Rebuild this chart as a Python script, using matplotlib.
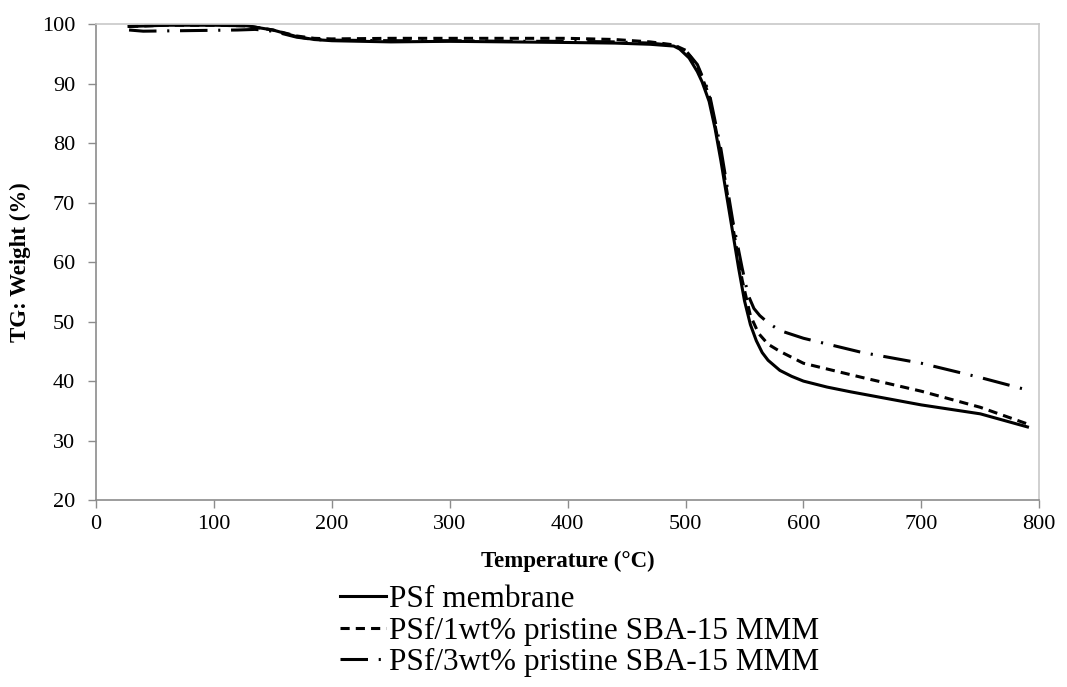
import matplotlib
matplotlib.use("Agg")
import matplotlib.pyplot as plt

# TGA curves
temp_psf = [28, 60, 100, 128, 150, 170, 185, 200, 250, 300, 350, 400, 440, 470, 490, 495, 503, 510,
            514, 520, 525, 530, 535, 540, 545, 550, 555, 560, 565, 570, 580, 590, 600, 620, 640, 700,
            750, 790]
wt_psf = [99.6, 99.8, 99.8, 99.7, 99.0, 97.9, 97.4, 97.2, 97.0, 97.1, 97.0, 96.9, 96.8, 96.6, 96.3,
          95.8, 94.3, 92.0, 90.3, 87.0, 82.5, 77.0, 71.0, 65.0, 59.0, 53.5, 49.5, 46.8, 44.8, 43.5,
          41.8, 40.8, 40.0, 39.0, 38.2, 36.0, 34.5, 32.3]

temp_1wt = [28, 60, 100, 128, 150, 170, 185, 200, 250, 300, 350, 400, 440, 470, 490, 500, 510, 520,
            530, 540, 548, 555, 562, 570, 580, 600, 650, 700, 750, 790]
wt_1wt = [99.6, 99.8, 99.8, 99.7, 99.0, 98.0, 97.6, 97.5, 97.6, 97.6, 97.6, 97.6, 97.4, 97.0, 96.5,
          95.6, 93.0, 88.0, 78.0, 66.0, 57.0, 51.0, 48.0, 46.2, 45.0, 43.0, 40.6, 38.3, 35.6, 32.8]

temp_3wt = [28, 40, 80, 120, 135, 150, 170, 185, 200, 250, 300, 350, 400, 440, 470, 490, 500, 510,
            520, 530, 540, 548, 553, 558, 563, 570, 580, 600, 650, 700, 750, 790]
wt_3wt = [99.0, 98.8, 98.9, 99.0, 99.1, 98.8, 97.8, 97.4, 97.3, 97.2, 97.2, 97.1, 97.1, 97.0, 96.8,
          96.4, 95.6, 93.2, 88.5, 79.0, 67.0, 59.0, 54.5, 52.2, 51.0, 49.8, 48.5, 47.2, 44.8, 43.0,
          40.6, 38.5]

labels = ["PSf membrane", "PSf/1wt% pristine SBA-15 MMM", "PSf/3wt% pristine SBA-15 MMM"]

plt.rcParams['font.family'] = ['Liberation Serif', 'DejaVu Serif']

fig = plt.figure(figsize=(10.67, 6.87), dpi=100)
ax = fig.add_axes([0.09, 0.272, 0.884, 0.693])

lw = 2.2
ax.plot(temp_psf, wt_psf, color='black', lw=lw, label=labels[0])
ax.plot(temp_1wt, wt_1wt, color='black', lw=lw, dashes=(3, 2), label=labels[1])
ax.plot(temp_3wt, wt_3wt, color='black', lw=lw, dashes=(9, 3.5, 0.7, 3.5), label=labels[2])

ax.set_xlim(0, 800)
ax.set_ylim(20, 100)
ax.set_xticks(range(0, 801, 100))
ax.set_yticks(range(20, 101, 10))
ax.tick_params(direction='out', length=6, width=1, color='#8c8c8c', labelsize=16)
ax.tick_params(axis='y', pad=9)
ax.tick_params(axis='x', pad=5)

for side in ['left', 'bottom']:
    ax.spines[side].set_color('#8c8c8c')
    ax.spines[side].set_linewidth(1.2)
for side in ['top', 'right']:
    ax.spines[side].set_color('#c8c8c8')
    ax.spines[side].set_linewidth(1.2)

ax.set_xlabel('Temperature (°C)', fontsize=16.5, fontweight='bold', labelpad=12)
ax.set_ylabel('TG: Weight (%)', fontsize=16.5, fontweight='bold', labelpad=8)

fig.legend(loc='upper left', bbox_to_anchor=(0.319, 0.148), frameon=False, fontsize=22.5,
           handlelength=1.45, handletextpad=0.1, labelspacing=0.08, borderpad=0, borderaxespad=0)

fig.savefig('out.png', dpi=100)
